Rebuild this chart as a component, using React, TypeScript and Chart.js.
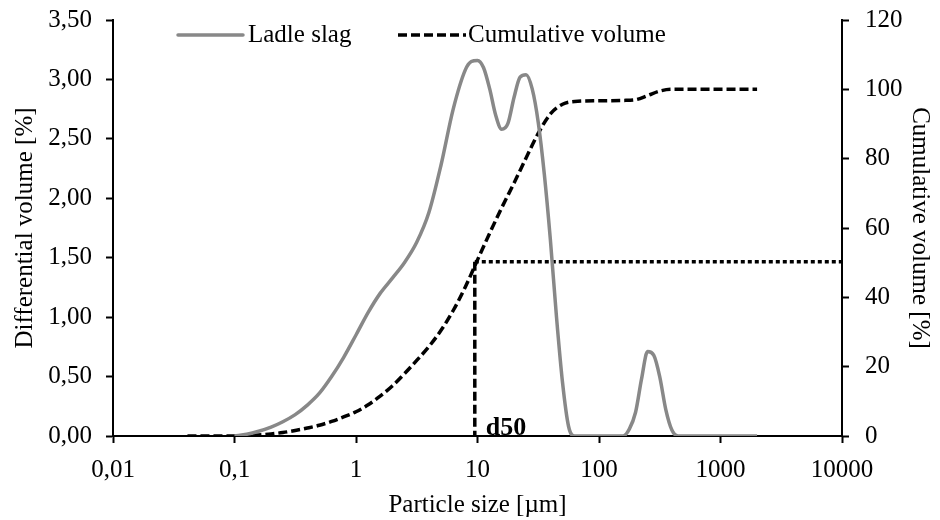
import React, { useEffect, useRef } from "react";
import { Chart, registerables } from "chart.js";

Chart.register(...registerables);

// ---- data ----
const seriesNames = ["Ladle slag", "Cumulative volume"];

const diffSizes = [
  0.1, 0.126, 0.158, 0.2, 0.25, 0.316, 0.398, 0.5, 0.63, 0.79, 1.0, 1.26, 1.58, 2.0, 2.51, 3.16,
  3.98, 5.01, 6.31, 7.94, 8.9, 10, 11.2, 12.6, 14.1, 15.8, 17.8, 20, 22.4, 25.1, 28.2, 31.6, 35.5,
  39.8, 44.7, 50.1, 56.2, 63.1, 100, 158, 178, 200, 224, 251, 282, 316, 355, 398, 447, 1000, 2000,
];
const diffValues = [
  0, 0.015, 0.04, 0.075, 0.12, 0.18, 0.26, 0.36, 0.5, 0.66, 0.85, 1.04, 1.2, 1.33, 1.46, 1.63,
  1.88, 2.28, 2.75, 3.08, 3.15, 3.16, 3.1, 2.92, 2.7, 2.58, 2.63, 2.85, 3.02, 3.04, 2.92, 2.64, 2.2,
  1.65, 1.0, 0.45, 0.08, 0, 0, 0, 0.06, 0.2, 0.48, 0.71, 0.68, 0.5, 0.22, 0.05, 0, 0, 0,
];

const cumSizes = [
  0.041, 0.063, 0.1, 0.126, 0.158, 0.2, 0.25, 0.316, 0.398, 0.5, 0.63, 0.79, 1.0, 1.26, 1.58, 2.0,
  2.51, 3.16, 3.98, 5.01, 6.31, 7.94, 10, 12.6, 15.8, 20, 25.1, 31.6, 39.8, 50.1, 63.1, 100, 158,
  200, 251, 316, 398, 1000, 2000,
];
const cumValues = [
  0, 0, 0, 0.1, 0.3, 0.6, 1.0, 1.6, 2.3, 3.1, 4.2, 5.5, 7.0, 9.0, 11.5, 14.5,
  18.0, 21.8, 25.8, 30.5, 36.2, 43, 50.8, 58.5, 65.8, 73, 80.2, 87.3, 92.9, 95.7, 96.5, 96.7, 96.8,
  97.0, 98.2, 99.5, 100, 100, 100,
];

const d50Size = 9.5;
const d50Level = 50.3;
const d50LineEnd = 10000;
const d50Label = "d50";

const xTickValues = [0.01, 0.1, 1, 10, 100, 1000, 10000];
const leftTickValues = [0, 0.5, 1, 1.5, 2, 2.5, 3, 3.5];
const rightTickValues = [0, 20, 40, 60, 80, 100, 120];

const xTitle = "Particle size [µm]";
const leftTitle = "Differential volume [%]";
const rightTitle = "Cumulative volume [%]";

// ---- styles ----
const FONT = "'Liberation Serif', 'Times New Roman', serif";
const GRAY = "#888888";

const overlayPlugin = {
  id: "overlay",
  afterDatasetsDraw(chart: any) {
    const ctx = chart.ctx;
    const xs = chart.scales.x;
    const yR = chart.scales.y2;
    ctx.save();
    // d50 label
    ctx.font = `bold 26px ${FONT}`;
    ctx.fillStyle = "#000";
    ctx.textAlign = "left";
    ctx.textBaseline = "alphabetic";
    ctx.fillText(d50Label, xs.getPixelForValue(d50Size) + 11, yR.getPixelForValue(0) - 1);

    // legend
    const ly = 35;
    ctx.lineWidth = 3.5;
    ctx.strokeStyle = GRAY;
    ctx.setLineDash([]);
    ctx.lineCap = "round";
    ctx.beginPath();
    ctx.moveTo(178, ly);
    ctx.lineTo(243, ly);
    ctx.stroke();
    ctx.lineCap = "butt";
    ctx.strokeStyle = "#000";
    ctx.setLineDash([9, 4]);
    ctx.beginPath();
    ctx.moveTo(398, ly);
    ctx.lineTo(466, ly);
    ctx.stroke();
    ctx.setLineDash([]);
    ctx.font = `25px ${FONT}`;
    ctx.fillStyle = "#000";
    ctx.textBaseline = "middle";
    ctx.fillText(seriesNames[0], 248, ly);
    ctx.fillText(seriesNames[1], 468, ly);
    ctx.restore();
  },
};

export default function App() {
  const ref = useRef<HTMLCanvasElement>(null);

  useEffect(() => {
    if (!ref.current) return;
    const tickFont = { family: FONT, size: 25 };
    const axisCommon = {
      grid: {
        display: true,
        drawOnChartArea: false,
        drawTicks: true,
        tickLength: 7,
        tickColor: "#000",
        tickWidth: 2,
      },
      border: { display: true, color: "#000", width: 2 },
    };
    const chart = new Chart(ref.current, {
      type: "line",
      data: {
        datasets: [
          {
            label: seriesNames[0],
            data: diffSizes.map((s, i) => ({ x: s, y: diffValues[i] })),
            yAxisID: "y",
            borderColor: GRAY,
            borderWidth: 3.5,
            pointRadius: 0,
            cubicInterpolationMode: "monotone",
            fill: false,
          },
          {
            label: seriesNames[1],
            data: cumSizes.map((s, i) => ({ x: s, y: cumValues[i] })),
            yAxisID: "y2",
            borderColor: "#000",
            borderWidth: 3.5,
            borderDash: [9, 4],
            pointRadius: 0,
            cubicInterpolationMode: "monotone",
            fill: false,
          },
          {
            label: "d50 vertical",
            data: [
              { x: d50Size, y: d50Level },
              { x: d50Size, y: 0 },
            ],
            yAxisID: "y2",
            borderColor: "#000",
            borderWidth: 3.5,
            borderDash: [9, 4],
            pointRadius: 0,
            tension: 0,
            fill: false,
          },
          {
            label: "d50 horizontal",
            data: [
              { x: d50Size, y: d50Level },
              { x: d50LineEnd, y: d50Level },
            ],
            yAxisID: "y2",
            borderColor: "#000",
            borderWidth: 3.5,
            borderDash: [4, 3],
            pointRadius: 0,
            tension: 0,
            fill: false,
          },
        ],
      },
      options: {
        responsive: false,
        animation: false,
        layout: { padding: { top: 20, left: 0, right: 0, bottom: 0 } },
        plugins: {
          legend: { display: false },
          tooltip: { enabled: false },
        },
        scales: {
          x: {
            type: "logarithmic",
            min: 0.01,
            max: 10000,
            ...axisCommon,
            afterBuildTicks: (scale: any) => {
              scale.ticks = xTickValues.map((v) => ({ value: v, major: true }));
            },
            afterFit: (scale: any) => {
              scale.height = 84;
            },
            ticks: {
              autoSkip: false,
              maxRotation: 0,
              padding: 12,
              color: "#000",
              font: tickFont,
              callback: (v: any) => String(v).replace(".", ","),
            },
            title: {
              display: true,
              text: xTitle,
              color: "#000",
              font: tickFont,
              padding: { top: 0, bottom: 0 },
            },
          },
          y: {
            type: "linear",
            position: "left",
            min: 0,
            max: 3.5,
            ...axisCommon,
            afterBuildTicks: (scale: any) => {
              scale.ticks = leftTickValues.map((v) => ({ value: v }));
            },
            afterFit: (scale: any) => {
              scale.width = 113;
              scale.paddingTop = 0;
              scale.paddingBottom = 0;
            },
            ticks: {
              padding: 14,
              color: "#000",
              font: tickFont,
              callback: (v: any) => Number(v).toFixed(2).replace(".", ","),
            },
            title: {
              display: true,
              text: leftTitle,
              color: "#000",
              font: tickFont,
              padding: { top: 10, bottom: 0 },
            },
          },
          y2: {
            type: "linear",
            position: "right",
            min: 0,
            max: 120,
            ...axisCommon,
            afterBuildTicks: (scale: any) => {
              scale.ticks = rightTickValues.map((v) => ({ value: v }));
            },
            afterFit: (scale: any) => {
              scale.width = 98;
              scale.paddingTop = 0;
              scale.paddingBottom = 0;
            },
            ticks: {
              padding: 16,
              color: "#000",
              font: tickFont,
              callback: (v: any) => String(v),
            },
            title: {
              display: true,
              text: rightTitle,
              color: "#000",
              font: tickFont,
              padding: { top: 5, bottom: 0 },
            },
          },
        },
      },
      plugins: [overlayPlugin],
    } as any);
    return () => chart.destroy();
  }, []);

  return (
    <div style={{ position: "absolute", left: 0, top: 0, width: 940, height: 520, background: "#fff" }}>
      <canvas ref={ref} width={940} height={520} />
    </div>
  );
}
